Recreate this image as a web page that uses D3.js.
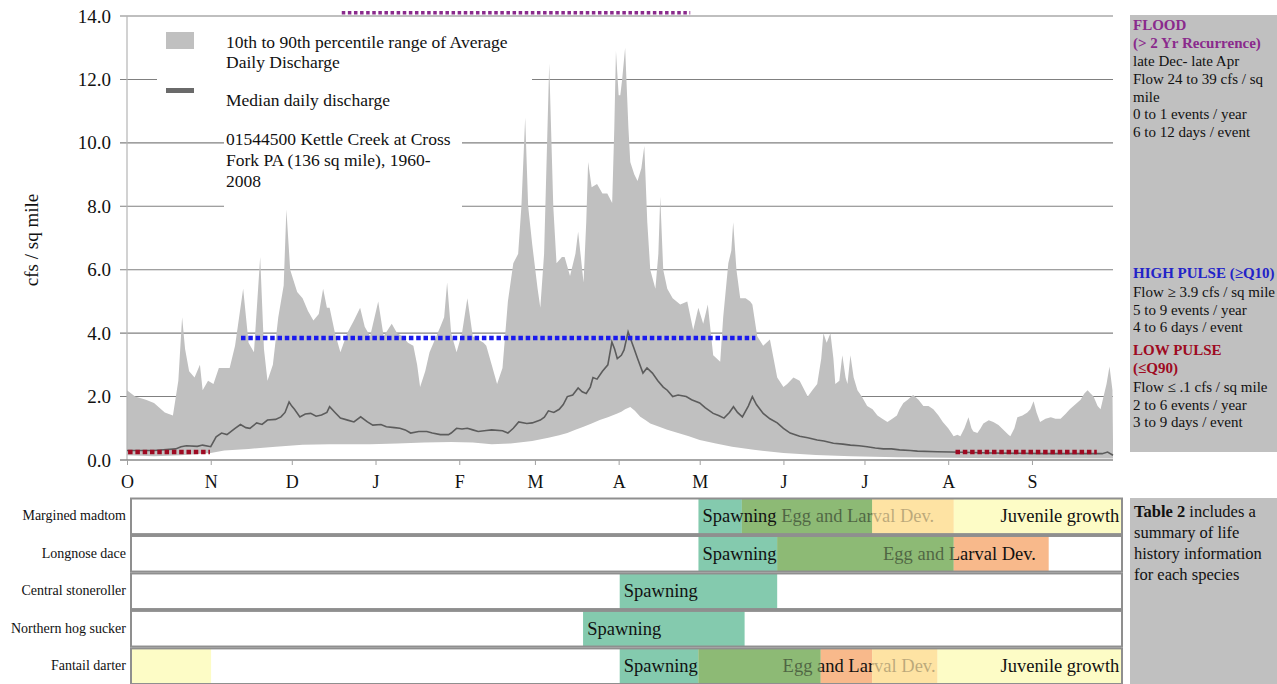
<!DOCTYPE html>
<html><head><meta charset="utf-8">
<script src="https://cdn.jsdelivr.net/npm/d3@7/dist/d3.min.js"></script>
<style>
body{margin:0;background:#fff}
svg{display:block}
text{font-family:"Liberation Serif","Times New Roman",serif}
</style>
</head><body>
<svg id="chart" width="1277" height="684"></svg>
<script>
// ---------------- DATA ----------------
// day of water year (0 = Oct 1) , value in cfs / sq mile
const p90 = [[0,2.2],[3,2.0],[7,1.9],[10,1.8],[14,1.5],[17,1.4],[19,2.5],[20.4,4.5],[21.5,3.5],[23,2.8],[25,2.6],[27,3.0],[28,2.2],[30,2.5],[32,2.4],[34,2.9],[38,2.9],[40,3.6],[43,5.4],[45,3.7],[47,3.4],[49.3,6.4],[50.7,3.5],[52,2.5],[54,3.0],[56,4.5],[58,5.5],[59,7.9],[60.4,6.0],[61.5,5.7],[63,5.3],[65,5.1],[67,4.7],[69,4.4],[71,4.6],[72.6,5.4],[74,4.8],[75,4.8],[77,4.0],[79,3.4],[81.5,4.0],[84,4.4],[86.3,4.8],[88,4.2],[90,3.9],[93,5.0],[95,3.9],[98,4.3],[100,4.0],[102,3.9],[104,3.7],[106,3.6],[107.4,3.0],[108.5,2.3],[110.4,2.8],[112,3.4],[114,3.8],[116,4.2],[117.4,4.5],[118.5,5.6],[120,4.0],[122,3.4],[124,4.0],[126,5.1],[128,3.9],[130,3.8],[132,3.7],[133,3.6],[135,3.0],[137,2.4],[139,2.9],[141,5.0],[143,6.2],[144.8,6.5],[146,8.0],[147.4,10.8],[148.5,8.0],[150,6.8],[152,5.4],[153,4.8],[154.4,6.5],[156.3,12.5],[157.8,8.0],[159,6.2],[161,6.4],[162,6.4],[164,5.8],[166,6.5],[167,7.2],[169,5.6],[170,7.5],[170.7,9.4],[172,8.6],[174,8.7],[176,8.4],[177.8,8.4],[179.6,8.1],[180.4,10.5],[181,12.9],[182,11.5],[182.6,11.5],[183.3,12.0],[184.4,13.0],[185.6,10.5],[186.3,9.4],[187.8,9.0],[189,8.8],[190.4,9.2],[191.5,9.9],[192.6,7.5],[193.7,6.0],[195.6,5.4],[196.7,6.5],[197.4,8.3],[198.5,6.0],[200,5.4],[202,5.1],[204.8,4.9],[207.4,5.0],[209.6,4.1],[211.5,4.8],[213.3,4.3],[215,4.9],[217,3.3],[219.6,3.1],[220.7,4.5],[222.6,6.2],[223.7,6.6],[224.4,7.5],[225.6,6.0],[227,5.1],[229,5.1],[230.7,5.0],[231.5,4.9],[233.3,3.9],[235.5,3.6],[238,3.8],[240.7,2.6],[243,2.3],[244.4,2.4],[246.7,2.6],[249,2.5],[252,2.0],[253.7,2.2],[255.5,2.4],[257,3.2],[257.8,4.0],[259,3.7],[260.4,4.0],[261.5,3.2],[262.2,2.4],[263.7,2.5],[264.8,3.3],[266,2.6],[266.7,2.4],[267.8,3.3],[269,2.6],[270.4,2.2],[272,2.0],[274,1.7],[276,1.6],[277.8,1.4],[279.6,1.3],[281.5,1.2],[283.3,1.3],[285,1.4],[286,1.6],[287.4,1.8],[289,1.9],[291,2.05],[293,1.9],[294.8,1.7],[296.7,1.7],[298.5,1.6],[300.4,1.4],[302,1.2],[304,1.0],[306,0.75],[307.4,0.8],[308.5,0.75],[310,1.0],[311.5,1.35],[312.6,1.0],[313.3,0.9],[314.8,0.85],[316,1.0],[317,1.15],[319,1.25],[320.7,1.2],[322.6,1.1],[324.4,0.95],[326.3,0.8],[327,0.75],[328.5,1.0],[329.6,1.35],[331.5,1.4],[333.3,1.5],[334.4,1.6],[335.6,1.85],[336.7,1.5],[338,1.2],[340,1.3],[342,1.35],[343.7,1.3],[345.6,1.3],[347.4,1.45],[349,1.6],[351,1.75],[353,1.9],[354.4,2.1],[355.6,2.2],[356.7,2.1],[357.8,2.0],[359.3,1.7],[360.4,1.6],[361.5,2.0],[362.6,2.4],[363.7,2.95],[364.8,2.2],[365,0.6]];

const p10 = [[0,0.15],[10,0.12],[20,0.15],[31,0.22],[36,0.3],[45,0.35],[55,0.42],[65,0.48],[75,0.5],[90,0.5],[100,0.52],[110,0.55],[120,0.57],[128,0.55],[135,0.5],[142,0.52],[150,0.6],[156,0.7],[160,0.78],[163,0.85],[166,0.95],[169,1.05],[172,1.15],[175,1.26],[178,1.35],[181.5,1.47],[183,1.52],[184.4,1.6],[186.3,1.67],[188,1.55],[190,1.36],[192,1.25],[193.7,1.15],[197,1.05],[200,0.95],[204,0.85],[208,0.75],[212,0.63],[218,0.52],[224,0.42],[232,0.32],[243,0.22],[255,0.16],[268,0.12],[285,0.09],[305,0.07],[330,0.05],[365,0.05]];

const median = [[0,0.3],[10,0.3],[18,0.35],[20,0.42],[22,0.45],[26,0.43],[28,0.47],[31,0.42],[33,0.73],[35,0.85],[37,0.8],[40,1.0],[42,1.12],[44,1.02],[45.5,1.0],[48,1.17],[50,1.12],[52,1.26],[55,1.28],[57,1.36],[58.5,1.5],[60,1.83],[61,1.7],[62,1.6],[64,1.36],[66,1.45],[68,1.47],[70,1.38],[72,1.42],[74,1.5],[75,1.68],[77,1.5],[79,1.32],[82,1.25],[84,1.2],[86.5,1.36],[89,1.2],[91,1.1],[94,1.12],[96,1.05],[99,1.02],[101,1.0],[103,0.95],[105,0.85],[108,0.9],[111,0.9],[113,0.85],[116,0.8],[119,0.8],[120,0.85],[122,1.0],[124,0.98],[126,1.0],[128,0.95],[130,0.9],[133,0.93],[135,0.95],[139,0.92],[141,0.85],[143,1.0],[145,1.2],[148,1.15],[150,1.17],[153,1.26],[154.5,1.35],[156,1.55],[158,1.5],[160,1.6],[161.5,1.75],[163,2.0],[165,2.05],[167,2.27],[168.5,2.15],[170,2.1],[171.5,2.3],[172.5,2.6],[174,2.55],[176,2.8],[178,3.0],[179.5,3.72],[180.5,3.5],[181.5,3.2],[183,3.3],[184,3.47],[185.5,4.04],[186.5,3.8],[187.5,3.56],[189,3.2],[191,2.74],[192.5,2.9],[194.5,2.74],[196.5,2.5],[198.5,2.3],[200,2.2],[202,2.0],[204,2.05],[207,2.0],[209,1.9],[212,1.8],[214,1.65],[217,1.47],[219,1.4],[221,1.32],[223,1.5],[224.5,1.68],[226,1.5],[227.8,1.36],[230,1.7],[231.5,2.0],[233,1.75],[235.5,1.47],[238,1.3],[240.7,1.17],[243,1.0],[245.5,0.85],[249,0.75],[252,0.7],[255.5,0.63],[258,0.6],[261.5,0.53],[265,0.5],[267.8,0.47],[271,0.45],[274,0.42],[277,0.38],[280,0.35],[283,0.35],[286,0.32],[290,0.3],[292.6,0.28],[300,0.26],[305,0.25],[320,0.22],[340,0.2],[358,0.2],[361,0.2],[363,0.25],[365,0.15]];

// flow-event target bands (day ranges, level)
const floodRange = [79.5, 208.5];       const floodLevel = 14.1;
const highPulseRange = [42.2, 232.6];   const highPulseLevel = 3.85;
const lowPulseRanges = [[0.4, 30.7], [306.7, 359]]; const lowPulseLevel = 0.25;

const monthLabels = ["O","N","D","J","F","M","A","M","J","J","A","S"];
const monthStartDays = [0,31,61,92,123,151,182,212,243,273,304,335];
const yTickValues = [0,2,4,6,8,10,12,14];

// life history (species rows, stage segments as [row, stage, startDay, endDay])
const species = ["Margined madtom","Longnose dace","Central stoneroller","Northern hog sucker","Fantail darter"];
const stageSegments = [
  [0,"spawn",209,225],[0,"egg",225,273],[0,"peach",273,303],[0,"juv",303,365],
  [1,"spawn",209,238],[1,"egg",238,303],[1,"orange",303,338],
  [2,"spawn",180,238],
  [3,"spawn",166.5,226],
  [4,"juv",0,29.5],[4,"spawn",180,209],[4,"egg",209,254],[4,"orange",254,273],[4,"peach",273,297],[4,"juv",297,365]
];
// labels: [row, text, anchorDay, anchor]
const stageLabels = [
  [0,"Spawning",210.5,"start"],[0,"Egg and Larval Dev.",239.5,"start"],[0,"Juvenile growth",364,"end"],
  [1,"Spawning",210.5,"start"],[1,"Egg and Larval Dev.",277,"start"],
  [2,"Spawning",181.5,"start"],
  [3,"Spawning",168,"start"],
  [4,"Spawning",181.5,"start"],[4,"Egg and Larval Dev.",240,"start"],[4,"Juvenile growth",364,"end"]
];

const floodText = ["late Dec- late Apr","Flow 24 to 39 cfs / sq","mile","0 to 1 events / year","6 to 12 days / event"];
const highText = ["Flow \u2265 3.9 cfs / sq mile","5 to 9 events / year","4 to 6 days / event"];
const lowText = ["Flow \u2264 .1 cfs / sq mile","2 to 6 events / year","3 to 9 days / event"];

// ---------------- DRAW ----------------
const svg = d3.select("#chart");
const x = d3.scaleLinear().domain([0,365]).range([127,1113]);
const y = d3.scaleLinear().domain([0,14]).range([460,16]);

const C = {area:"#c0c0c0", grid:"#808080", med:"#5c5c5c", purple:"#8a2a8c", blue:"#1a1aee", red:"#9e0a22"};

// gridlines
svg.append("g").selectAll("line").data(yTickValues.filter(v=>v>0)).join("line")
  .attr("x1",120).attr("x2",x(365)).attr("y1",d=>y(d)).attr("y2",d=>y(d))
  .attr("stroke",C.grid).attr("stroke-width",1.1);

// 10th-90th area
const line = d3.line().x(d=>x(d[0])).y(d=>y(d[1]));
const poly = p90.concat(p10.slice().reverse());
svg.append("path").attr("d", line(poly)+"Z").attr("fill",C.area);

// y axis line
svg.append("line").attr("x1",127).attr("x2",127).attr("y1",y(14)).attr("y2",y(0)).attr("stroke","#b4b4b4").attr("stroke-width",1.2);

// median
svg.append("path").attr("d", line(median)).attr("fill","none").attr("stroke",C.med).attr("stroke-width",1.6);

// x axis
const xAxis = svg.append("g").attr("transform",`translate(0,${y(0)})`)
  .call(d3.axisBottom(x).tickValues(monthStartDays).tickFormat((d,i)=>monthLabels[i]).tickSize(5).tickPadding(10).tickSizeOuter(0));
xAxis.select(".domain").attr("stroke","#8a8a8a").attr("stroke-width",1.5).attr("d",`M120,0H${x(365)}`);
xAxis.selectAll(".tick line").attr("stroke","#a0a0a0");
xAxis.selectAll(".tick text").attr("font-size",18).attr("fill","#111").attr("font-family","Liberation Serif");

// y axis labels
const yAxis = svg.append("g").attr("transform","translate(127,0)")
  .call(d3.axisLeft(y).tickValues(yTickValues).tickFormat(d3.format(".1f")).tickSize(0).tickPadding(16));
yAxis.select(".domain").remove();
yAxis.selectAll(".tick text").attr("font-size",19).attr("fill","#111").attr("font-family","Liberation Serif");

svg.append("text").attr("transform","translate(38,240) rotate(-90)").attr("text-anchor","middle")
  .attr("font-size",19).attr("fill","#111").text("cfs / sq mile");

// dotted target lines
function dotted(range, level, color, w, dash){
  svg.append("line").attr("x1",x(range[0])).attr("x2",x(range[1])).attr("y1",y(level)).attr("y2",y(level))
    .attr("stroke",color).attr("stroke-width",w).attr("stroke-dasharray",dash);
}
dotted(floodRange, floodLevel, C.purple, 3.5, "3.5,2.6");
dotted(highPulseRange, highPulseLevel, C.blue, 4.5, "4.5,2.8");
lowPulseRanges.forEach(r=>dotted(r, lowPulseLevel, C.red, 4.5, "4.5,2.8"));

// legend boxes (white text boxes over plot)
svg.append("rect").attr("x",157).attr("y",21).attr("width",375).attr("height",95).attr("fill","#fff");
svg.append("rect").attr("x",224).attr("y",122).attr("width",238).attr("height",86).attr("fill","#fff");
svg.append("rect").attr("x",166).attr("y",32).attr("width",28).attr("height",17).attr("fill",C.area);
svg.append("rect").attr("x",166).attr("y",88).attr("width",28).attr("height",5).attr("fill","#6a6a6a");
const legT = [["10th to 90th percentile range of Average",48],["Daily Discharge",68],["Median daily discharge",106],
  ["01544500 Kettle Creek at Cross",145],["Fork PA (136 sq mile), 1960-",166],["2008",187]];
svg.append("g").selectAll("text").data(legT).join("text").attr("x",226).attr("y",d=>d[1])
  .attr("font-size",17.5).attr("fill","#111").text(d=>d[0]);

// right info panel
svg.append("rect").attr("x",1130).attr("y",15).attr("width",147).attr("height",437).attr("fill","#c0c0c0");
const rp = svg.append("g").attr("font-size",15).attr("fill","#111");
function rtext(t,yy,color,bold){ rp.append("text").attr("x",1133).attr("y",yy).attr("fill",color||"#111")
  .attr("font-weight",bold?"bold":"normal").text(t); }
rtext("FLOOD",30,C.purple,true);
rtext("(> 2 Yr Recurrence)",48,C.purple,true);
floodText.forEach((t,i)=>rtext(t,66+i*17.8));
rtext("HIGH PULSE (\u2265Q10)",278,"#2323c8",true);
highText.forEach((t,i)=>rtext(t,297+i*17.6));
rtext("LOW PULSE",355,C.red,true);
rtext("(\u2264Q90)",373,C.red,true);
lowText.forEach((t,i)=>rtext(t,392+i*17.6));

// table note panel
svg.append("rect").attr("x",1130).attr("y",498).attr("width",147).attr("height",186).attr("fill","#c0c0c0");
const tn = svg.append("text").attr("x",1134).attr("y",517).attr("font-size",16.5).attr("fill","#111");
tn.append("tspan").attr("font-weight","bold").text("Table 2");
tn.append("tspan").text(" includes a");
["summary of life","history information","for each species"].forEach((t,i)=>
  svg.append("text").attr("x",1134).attr("y",538+i*21).attr("font-size",16.5).attr("fill","#111").text(t));

// life history chart
const xb = d3.scaleLinear().domain([0,365]).range([131,1122]);
const yb = d3.scaleBand().domain(d3.range(species.length)).range([498.5,684]).paddingInner(0.05);
const stageColor = {spawn:"#84caae", egg:"#8dba75", orange:"#f8b98b", peach:"#fde3a3", juv:"#fdfcc6"};
const overlayOpacity = {egg:0.5, peach:0.72};

const lh = svg.append("g");
lh.selectAll("rect.bg").data(species).join("rect").attr("class","bg")
  .attr("x",xb(0)).attr("y",(d,i)=>yb(i)).attr("width",xb(365)-xb(0)).attr("height",yb.bandwidth()).attr("fill","#fff");
lh.selectAll("rect.seg").data(stageSegments).join("rect").attr("class","seg")
  .attr("x",d=>xb(d[2])).attr("width",d=>xb(d[3])-xb(d[2])).attr("y",d=>yb(d[0])).attr("height",yb.bandwidth())
  .attr("fill",d=>stageColor[d[1]]);
// non-spawning labels
lh.selectAll("text.stg").data(stageLabels.filter(d=>d[1]!=="Spawning")).join("text").attr("class","stg")
  .attr("x",d=>xb(d[2])).attr("y",d=>yb(d[0])+yb.bandwidth()/2+6).attr("text-anchor",d=>d[3])
  .attr("font-size",18.5).attr("fill","#111").text(d=>d[1]);
// translucent stage boxes drawn over text (as in original layering)
lh.selectAll("rect.ov").data(stageSegments.filter(d=>overlayOpacity[d[1]])).join("rect").attr("class","ov")
  .attr("x",d=>xb(d[2])).attr("width",d=>xb(d[3])-xb(d[2])).attr("y",d=>yb(d[0])).attr("height",yb.bandwidth())
  .attr("fill",d=>stageColor[d[1]]).attr("opacity",d=>overlayOpacity[d[1]]);
lh.selectAll("text.sp").data(stageLabels.filter(d=>d[1]==="Spawning")).join("text").attr("class","sp")
  .attr("x",d=>xb(d[2])).attr("y",d=>yb(d[0])+yb.bandwidth()/2+6).attr("text-anchor",d=>d[3])
  .attr("font-size",18.5).attr("fill","#111").text(d=>d[1]);
lh.selectAll("rect.bd").data(species).join("rect").attr("class","bd")
  .attr("x",xb(0)).attr("y",(d,i)=>yb(i)).attr("width",xb(365)-xb(0)).attr("height",yb.bandwidth())
  .attr("fill","none").attr("stroke","#8f8f8f").attr("stroke-width",2);
lh.selectAll("text.sl").data(species).join("text").attr("class","sl")
  .attr("x",126).attr("y",(d,i)=>yb(i)+yb.bandwidth()/2+4).attr("text-anchor","end")
  .attr("font-size",14).attr("fill","#111").text(d=>d);
</script>
</body></html>
